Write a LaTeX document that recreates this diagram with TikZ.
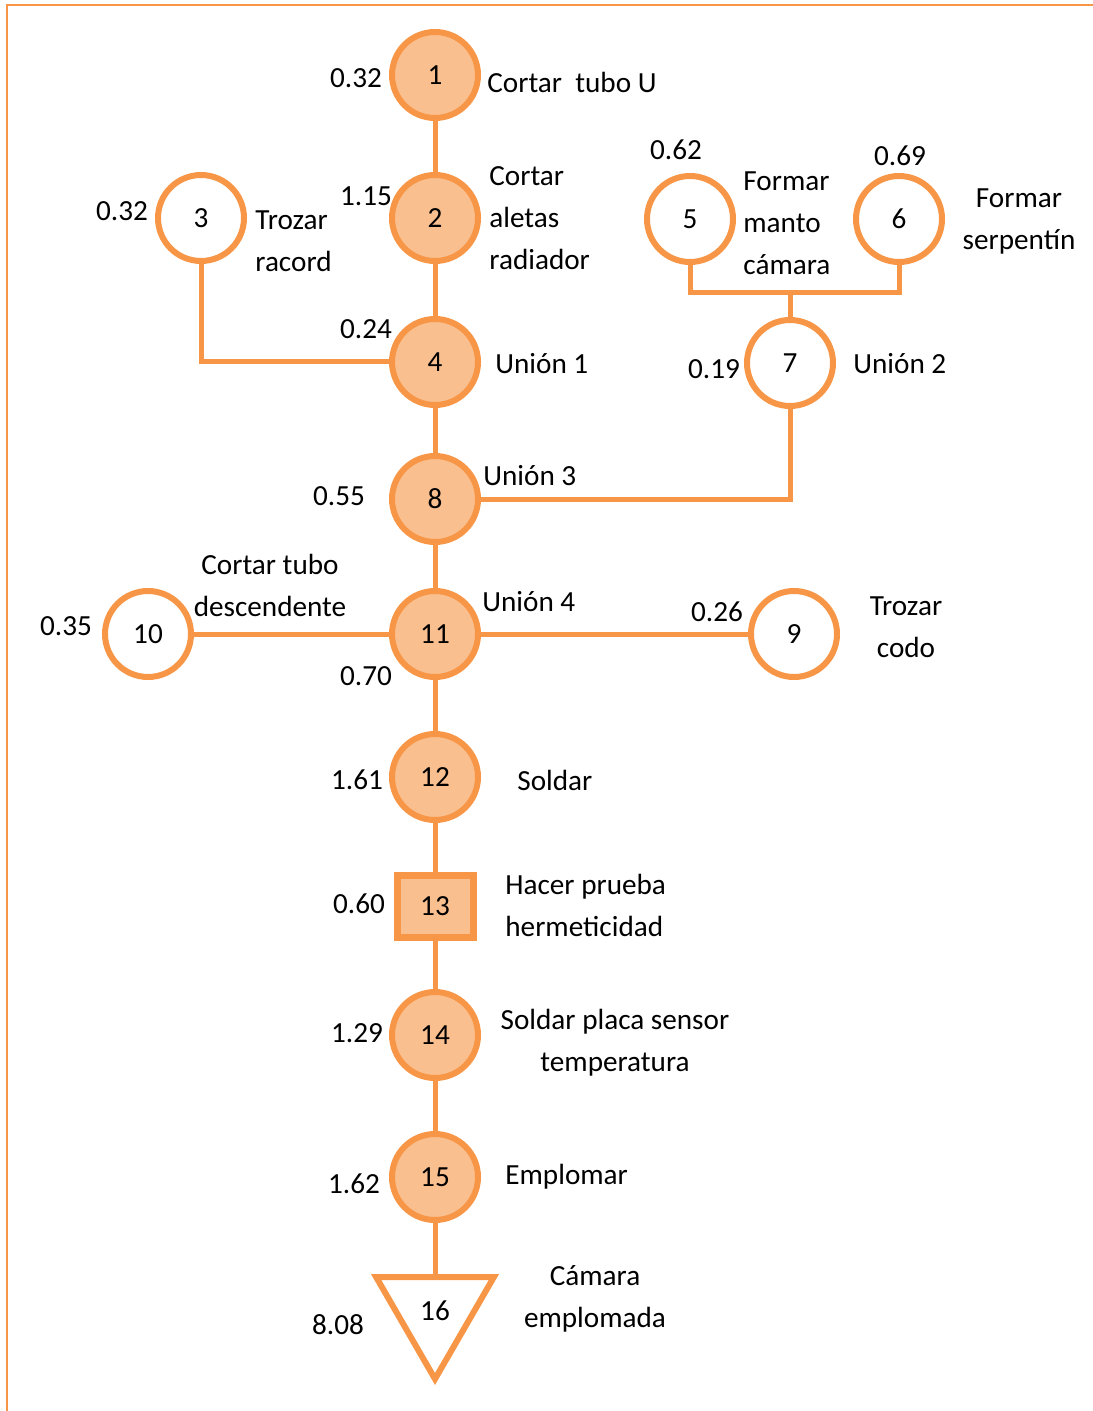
\documentclass[tikz,border=0pt]{standalone}
\usepackage{fontspec}
\setmainfont{Carlito}
\definecolor{pcorange}{RGB}{247,150,70}
\definecolor{pcpeach}{RGB}{250,191,143}
\usetikzlibrary{positioning,shapes.geometric}

\begin{document}
\begin{tikzpicture}[x=0.5pt,y=-0.5pt,
  font=\fontsize{14.6}{21}\selectfont,
  op/.style={circle,draw=pcorange,fill=white,line width=3pt,minimum size=43pt,inner sep=0pt},
  opfill/.style={op,fill=pcpeach},
  insp/.style={rectangle,draw=pcorange,fill=pcpeach,line width=3.5pt,minimum width=38pt,minimum height=31pt,inner sep=0pt},
  store/.style={regular polygon,regular polygon sides=3,shape border rotate=180,draw=pcorange,line width=3pt,minimum size=68pt,inner sep=0pt},
  link/.style={draw=pcorange,line width=2.5pt},
  lbl/.style={inner sep=0pt,align=left,anchor=west},
  lblc/.style={inner sep=0pt,align=center},
  tm/.style={inner sep=0pt}]
  \useasboundingbox (0,0) rectangle (1092,1411);
  % frame
  \draw[pcorange,line width=1pt] (7,1420) -- (7,5) -- (1100,5);

  % operations
  \foreach \n/\x/\y/\s in {1/435/75/opfill, 2/435/218/opfill, 3/201/218/op,
    4/435/362/opfill, 5/690/219/op, 6/899/219/op, 7/790/363/op,
    8/435/499/opfill, 9/794/634/op, 10/148/634/op, 11/435/634/opfill,
    12/435/777/opfill, 14/435/1035/opfill, 15/435/1177/opfill} {
    \node[\s] (n\n) at (\x,\y) {\n};
  }
  \node[insp] (n13) at (435,906) {13};
  \node[store] (n16) at (435,1311) {16};

  % connectors
  \foreach \a/\b in {1/2, 2/4, 4/8, 8/11, 11/12, 12/13, 13/14, 14/15, 15/16, 10/11, 11/9}
    \draw[link] (n\a) -- (n\b);
  \draw[link] (n3.south) |- (n4.west);
  \coordinate (j56) at (790,293);
  \draw[link] (n5.south) |- (j56) -| (n6.south);
  \draw[link] (j56) -- (n7.north);
  \draw[link] (n7.south) |- (n8.east);

  % times
  \foreach \n/\x/\y/\t in {1/356/78/0.32, 3/122/211/0.32, 2/366/196/1.15,
    4/366/329/0.24, 5/676/150/0.62, 6/900/156/0.69, 7/714/369/0.19,
    8/339/496/0.55, 10/66/626/0.35, 11/366/676/0.70, 9/717/612/0.26,
    12/357/780/1.61, 13/359/904/0.60, 14/357/1033/1.29, 15/354/1184/1.62,
    16/338/1325/8.08} {
    \node[tm] (tm\n) at (\x,\y) {\t};
  }

  % descriptions
  \node[lbl] (d1) at (487,82) {Cortar\ \ tubo U};
  \node[lbl] (d2) at (489,218) {Cortar\\aletas\\radiador};
  \node[lbl] (d3) at (255,241) {Trozar\\racord};
  \node[lbl] (d4) at (495,364) {Unión 1};
  \node[lbl] (d5) at (743,223) {Formar\\manto\\cámara};
  \node[lblc] (d6) at (1019,221) {Formar\\serpentín};
  \node[lbl] (d7) at (853,364) {Unión 2};
  \node[lbl] (d8) at (483,476) {Unión 3};
  \node[lblc] (d10) at (270,585) {Cortar tubo\\descendente};
  \node[lbl] (d11) at (482,602) {Unión 4};
  \node[lblc] (d9) at (906,627) {Trozar\\codo};
  \node[lbl] (d12) at (517,780) {Soldar};
  \node[lbl] (d13) at (505,905) {Hacer prueba\\hermeticidad};
  \node[lblc] (d14) at (615,1043) {Soldar placa sensor\\temperatura};
  \node[lbl] (d15) at (505,1177) {Emplomar};
  \node[lblc] (d16) at (595,1299) {Cámara\\emplomada};
\end{tikzpicture}
\end{document}
